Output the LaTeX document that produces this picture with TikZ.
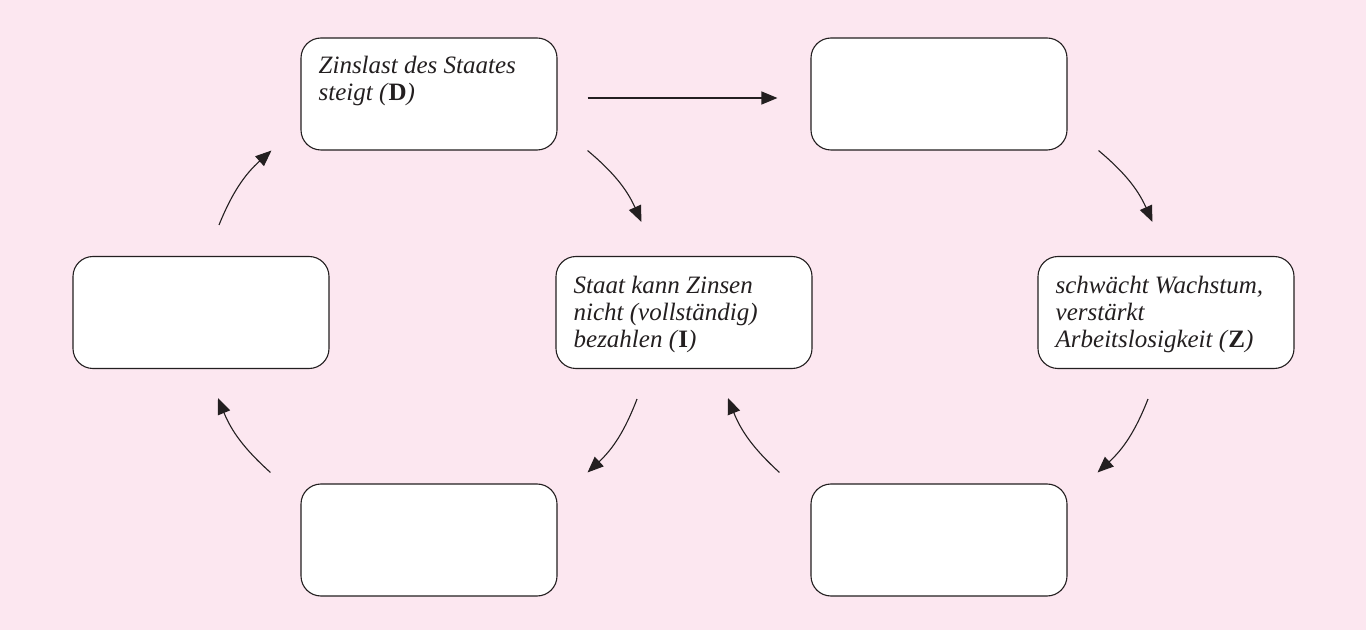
\documentclass[tikz,border=0pt]{standalone}
\usepackage{fontspec}
\setmainfont{Liberation Serif}
\usetikzlibrary{arrows.meta,calc}
\definecolor{bgpink}{RGB}{252,231,240}
\definecolor{lineg}{RGB}{35,31,32}
\tikzset{
  card/.style={draw=lineg, line width=1.1pt, fill=white, rounded corners=20pt,
    minimum width=256pt, minimum height=112pt, inner sep=0pt},
  cardtext/.style={anchor=north west, inner sep=0pt, align=left, text=lineg,
    font=\fontsize{25}{27}\selectfont\itshape},
  flow/.style={draw=lineg, line width=1.1pt, -{Triangle[length=16pt,width=13pt]}},
}
\newcommand{\bl}[1]{\textup{\textbf{#1}}}
\begin{document}
\begin{tikzpicture}[x=1pt,y=1pt]
\useasboundingbox (0,0) rectangle (1366,630);
\fill[bgpink] (0,0) rectangle (1366,630);
% boxes
\node[card] (A)  at (429,536)   {};
\node[card] (B)  at (939,536)   {};
\node[card] (C)  at (201,317.5) {};
\node[card] (I)  at (684,317.5) {};
\node[card] (Z)  at (1166,317.5){};
\node[card] (BL) at (429,90)    {};
\node[card] (BR) at (939,90)    {};
% texts
\node[cardtext] (tA) at ($(A.north west)+(18,-19)$) {Zinslast des Staates\\steigt (\bl{D})};
\node[cardtext] (tI) at ($(I.north west)+(18,-20)$) {Staat kann Zinsen\\nicht (vollständig)\\bezahlen (\bl{I})};
\node[cardtext] (tZ) at ($(Z.north west)+(18,-20)$) {schwächt Wachstum,\\verstärkt\\Arbeitslosigkeit (\bl{Z})};
% arrow end points
\coordinate (s1) at ($(A.east)+(30,-4)$);
\coordinate (e1) at ($(B.west)+(-33,-4)$);
\coordinate (s2) at ($(A.south east)+(30,0)$);
\coordinate (e2) at ($(I.north west)+(86,34)$);
\coordinate (s3) at ($(B.south east)+(31,0)$);
\coordinate (e3) at ($(Z.north west)+(115,34)$);
\coordinate (s4) at ($(Z.south)+(-18,-30)$);
\coordinate (e4) at ($(BR.north east)+(30,11)$);
\coordinate (s5) at ($(I.south)+(-47,-30)$);
\coordinate (e5) at ($(BL.north east)+(30,11)$);
\coordinate (s6) at ($(BR.north west)+(-31,11)$);
\coordinate (e6) at ($(I.south)+(44,-29)$);
\coordinate (s7) at ($(BL.north west)+(-30,11)$);
\coordinate (e7) at ($(C.south)+(17,-29)$);
\coordinate (s8) at ($(C.north)+(18,31)$);
\coordinate (e8) at ($(A.south west)+(-29,0)$);
% arrows
\draw[flow] (s1) -- (e1);
\draw[flow] (s2) to[bend left=13] (e2);
\draw[flow] (s3) to[bend left=13] (e3);
\draw[flow] (s4) to[bend left=13] (e4);
\draw[flow] (s5) to[bend left=13] (e5);
\draw[flow] (s6) to[bend left=13] (e6);
\draw[flow] (s7) to[bend left=13] (e7);
\draw[flow] (s8) to[bend left=13] (e8);
\end{tikzpicture}
\end{document}
